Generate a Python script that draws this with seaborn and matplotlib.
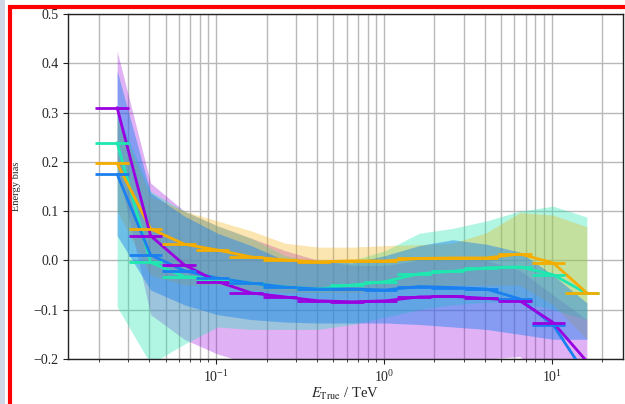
import numpy as np
import pandas as pd
import matplotlib
matplotlib.use("Agg")
import matplotlib.pyplot as plt
from matplotlib.patches import Rectangle
import seaborn as sns

# energy binning (TeV)
e_lo = [0.0191, 0.0302, 0.0479, 0.0759, 0.120, 0.191, 0.302, 0.479,
        0.759, 1.20, 1.91, 3.02, 4.79, 7.59, 12.0]
e_hi = [0.0302, 0.0479, 0.0759, 0.120, 0.191, 0.302, 0.479, 0.759,
        1.20, 1.91, 3.02, 4.79, 7.59, 12.0, 19.1]
e_mid = [0.0257, 0.0407, 0.0646, 0.102, 0.162, 0.257, 0.407, 0.646,
         1.02, 1.62, 2.57, 4.07, 6.46, 10.2, 16.2]

# bias per series
bias_purple = [0.310, 0.050, -0.009, -0.043, -0.066, -0.074, -0.082, -0.084,
               -0.082, -0.074, -0.073, -0.077, -0.082, -0.126, -0.205]
bias_teal = [0.239, -0.004, -0.033, -0.037, -0.046, -0.054, -0.058, -0.050,
             -0.043, -0.027, -0.022, -0.015, -0.013, -0.029, -0.067]
bias_orange = [0.197, 0.064, 0.033, 0.021, 0.007, 0.001, -0.003, -0.001,
               -0.001, 0.004, 0.005, 0.005, 0.013, -0.005, -0.066]
bias_blue = [0.175, 0.011, -0.021, -0.036, -0.046, -0.054, -0.058, -0.058,
             -0.060, -0.053, -0.055, -0.058, -0.078, -0.131, -0.235]

# spread bands (lower / upper)
lo_purple = [0.19, -0.11, -0.16, -0.19, -0.21, -0.23, -0.24, -0.24,
             -0.23, -0.22, -0.21, -0.20, -0.195, -0.25, -0.30]
hi_purple = [0.425, 0.157, 0.100, 0.070, 0.045, 0.020, 0.000, -0.010,
             -0.010, 0.000, 0.000, 0.000, -0.020, -0.070, -0.120]
lo_teal = [-0.094, -0.21, -0.17, -0.135, -0.14, -0.14, -0.14, -0.13,
           -0.115, -0.10, -0.09, -0.085, -0.085, -0.10, -0.12]
hi_teal = [0.30, 0.14, 0.10, 0.07, 0.045, 0.010, -0.005, 0.000,
           0.020, 0.055, 0.065, 0.080, 0.100, 0.110, 0.088]
lo_orange = [0.10, -0.03, -0.05, -0.05, -0.06, -0.065, -0.065, -0.065,
             -0.06, -0.055, -0.05, -0.05, -0.05, -0.09, -0.16]
hi_orange = [0.29, 0.13, 0.10, 0.08, 0.06, 0.035, 0.027, 0.027,
             0.030, 0.032, 0.035, 0.056, 0.097, 0.092, 0.068]
lo_blue = [0.05, -0.06, -0.09, -0.11, -0.12, -0.125, -0.127, -0.127,
           -0.127, -0.13, -0.135, -0.14, -0.15, -0.16, -0.16]
hi_blue = [0.385, 0.137, 0.090, 0.055, 0.030, 0.000, -0.003, -0.005,
           0.010, 0.030, 0.042, 0.033, 0.017, -0.030, -0.086]

colors = {"purple": "#9a00e0", "teal": "#1ee8b0",
          "orange": "#f5ae00", "blue": "#1a80f0"}

sns.set_theme(style="ticks")
plt.rcParams["font.family"] = ["Liberation Serif", "DejaVu Serif"]
plt.rcParams["mathtext.fontset"] = "stix"

fig = plt.figure(figsize=(6.25, 4.04), dpi=100)
ax = fig.add_axes([0.1088, 0.1114, 0.888, 0.854])
ax.set_xscale("log")

# bands
bands = [("purple", lo_purple, hi_purple, 0.30),
         ("teal", lo_teal, hi_teal, 0.35),
         ("orange", lo_orange, hi_orange, 0.30),
         ("blue", lo_blue, hi_blue, 0.45)]
for name, lo, hi, a in bands:
    ax.fill_between(e_mid, lo, hi, color=colors[name], alpha=a, lw=0, zorder=2)

# lines
series = {"teal": bias_teal, "orange": bias_orange,
          "blue": bias_blue, "purple": bias_purple}
frames = []
for name, vals in series.items():
    frames.append(pd.DataFrame({"energy": e_mid, "bias": vals, "model": name}))
df = pd.concat(frames, ignore_index=True)

sns.lineplot(data=df, x="energy", y="bias", hue="model",
             hue_order=list(series.keys()), palette=colors, sort=False,
             estimator=None, legend=False, lw=2.0, ax=ax, zorder=3)
for name, vals in series.items():
    ax.hlines(vals, e_lo, e_hi, color=colors[name], lw=2.0, zorder=3)

ax.set_xlim(0.0131, 26.6)
ax.set_ylim(-0.2, 0.5)
ax.set_yticks([-0.2, -0.1, 0.0, 0.1, 0.2, 0.3, 0.4, 0.5])
ax.grid(True, which="major", color="#b8b8b8", lw=1.0, zorder=0)
ax.grid(True, which="minor", axis="x", color="#b8b8b8", lw=1.0, zorder=0)
ax.set_axisbelow(True)
ax.tick_params(axis="both", which="major", labelsize=10, length=3.5,
               width=0.8, direction="out", color="#222222")
ax.tick_params(axis="x", which="minor", length=2, width=0.6, color="#222222")
for s in ax.spines.values():
    s.set_color("#222222")
    s.set_linewidth(1.0)

ax.set_xlabel(r"$E_{\mathrm{True}}$ / TeV", fontsize=10.5, labelpad=1)
ax.set_ylabel("Energy bias", fontsize=7.5, labelpad=9)

# surrounding frame from the screenshot
fig.patches.append(Rectangle((0, 0), 5 / 625, 1, transform=fig.transFigure,
                             facecolor="#cfd7e6", edgecolor="none"))
fig.patches.append(Rectangle((9.5 / 625, -0.5), 2.0, 1.5 - 7 / 404,
                             transform=fig.transFigure, fill=False,
                             edgecolor="#ff0000", lw=3.0))

fig.savefig("out.png", dpi=100)
